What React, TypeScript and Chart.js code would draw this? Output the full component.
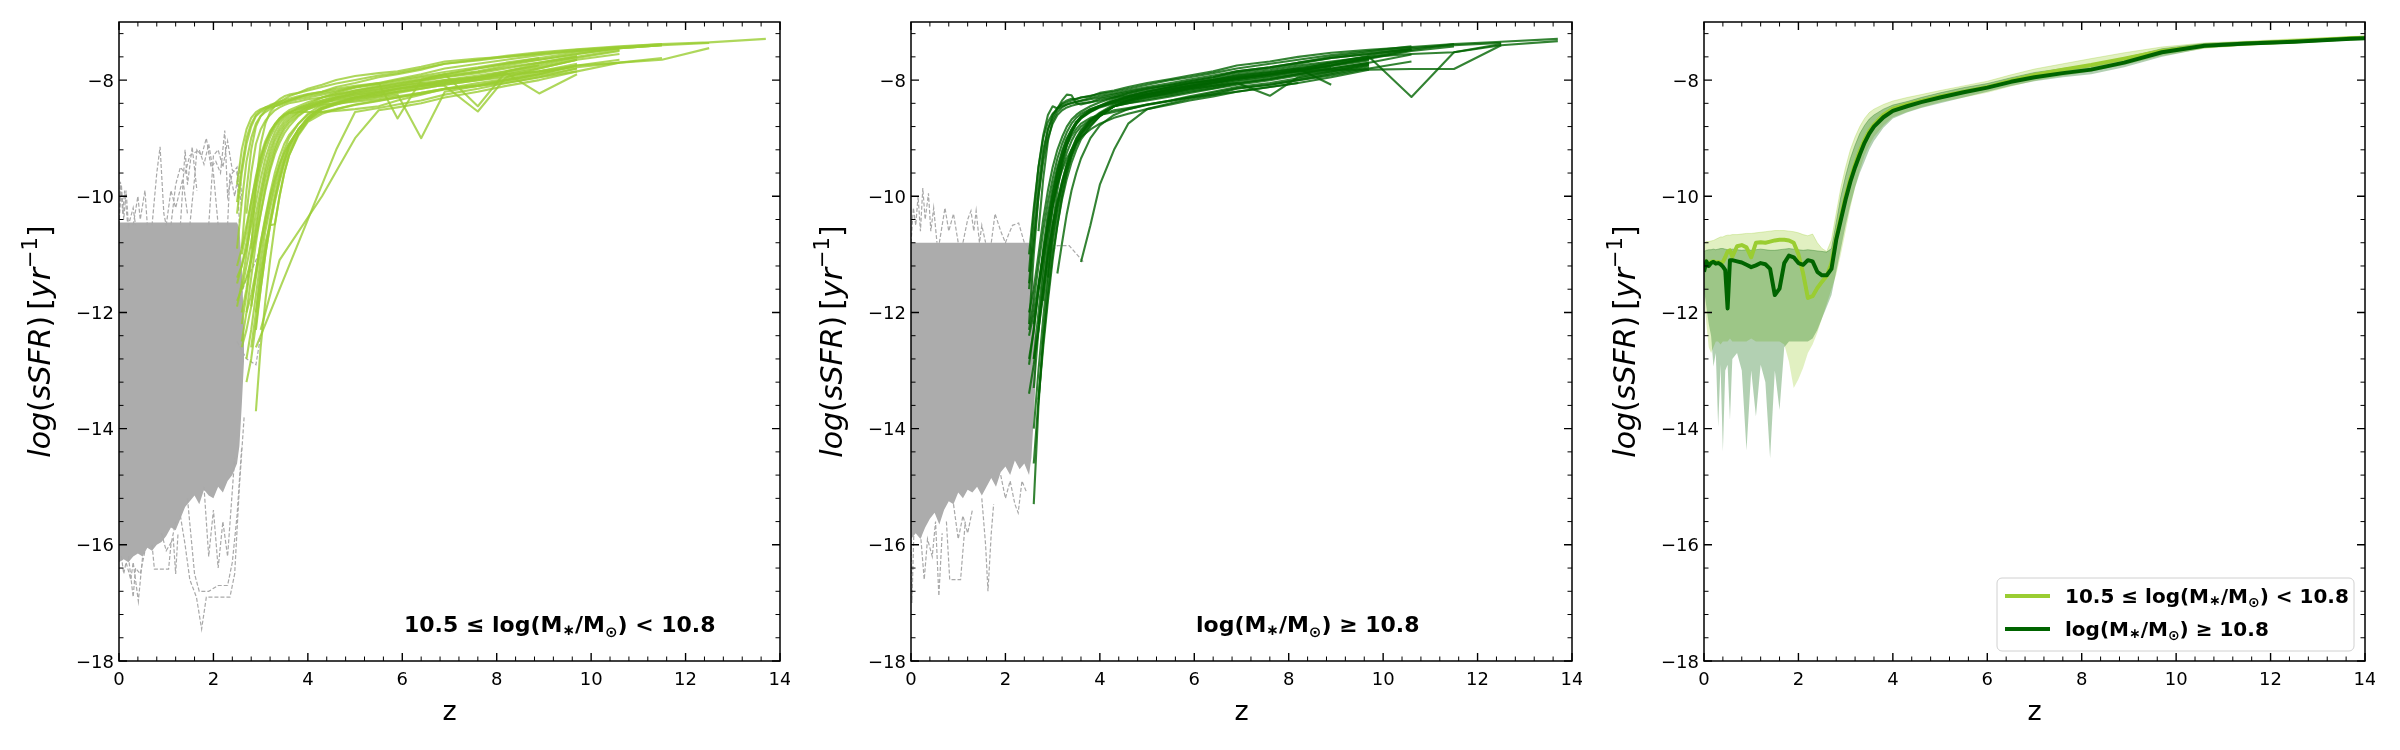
import React, { useEffect, useRef } from "react";
import { Chart, registerables } from "chart.js";

Chart.register(...registerables);

const _ = null;

// ---------------- axes ----------------
const X_MIN = 0;
const X_MAX = 14;
const Y_MIN = -18;
const Y_MAX = -7;
const X_MAJOR = [0, 2, 4, 6, 8, 10, 12, 14];
const X_LABELS = ["0", "2", "4", "6", "8", "10", "12", "14"];
const Y_MAJOR = [-18, -16, -14, -12, -10, -8];
const Y_LABELS = ["\u221218", "\u221216", "\u221214", "\u221212", "\u221210", "\u22128"];
const MINOR_STEP = 0.4;

// ---------------- panel 1 & 2 : individual tracks ----------------
const Z_TRACK = [2.5, 2.6, 2.7, 2.8, 2.9, 3.0, 3.1, 3.2, 3.3, 3.4, 3.5, 3.6, 3.8, 4.0, 4.3, 4.6, 5.0, 5.5, 5.9, 6.4, 6.9, 7.6, 8.2, 8.9, 9.7, 10.6, 11.5, 12.5, 13.7];

const BIN1_TRACKS = [
  [-9.8, -9.2, -8.85, -8.65, -8.55, -8.5, -8.47, -8.45, -8.42, -8.4, -8.38, -8.35, -8.3, -8.25, -8.2, -8.12, -8.05, -7.95, -7.9, -7.82, -7.72, -7.65, -7.58, -7.52, -7.47, -7.42, -7.38, -7.35, -7.29],
  [-10.3, -9.6, -9.1, -8.8, -8.62, -8.55, -8.5, -8.47, -8.45, -8.43, -8.4, -8.37, -8.33, -8.3, -8.25, -8.2, -8.12, -8.05, -7.98, -7.9, -7.8, -7.72, -7.65, -7.57, -7.5, -7.45, -7.4, -7.36, _],
  [-11.4, -11.2, -10.9, -10.5, -10.1, -9.7, -9.35, -9.1, -8.9, -8.75, -8.65, -8.58, -8.48, -8.42, -8.3, -8.25, -8.2, -8.12, -8.08, -8.0, -7.92, -7.85, -7.75, -7.65, -7.55, -7.45, -7.4, _, _],
  [-11.8, -11.6, -11.2, -10.8, -10.3, -9.9, -9.5, -9.2, -8.98, -8.82, -8.7, -8.62, -8.52, -8.45, -8.35, -8.3, -8.25, -8.2, -8.15, -8.1, -8.05, -7.95, -7.9, -7.85, -7.75, -7.7, -7.62, _, _],
  [_, -12.0, -11.6, -11.0, -10.5, -10.0, -9.6, -9.3, -9.05, -8.88, -8.75, -8.66, -8.55, -8.47, -8.38, -8.33, -8.28, -8.2, -8.15, -8.08, -8.0, -7.92, -7.85, -7.75, -7.62, -7.5, _, _, _],
  [_, -10.9, -9.9, -9.2, -8.8, -8.62, -8.52, -8.45, -8.4, -8.33, -8.28, -8.25, -8.22, -8.15, -8.08, -8.0, -7.93, -7.88, -7.85, -7.77, -7.68, -7.63, -7.6, -7.55, -7.5, -7.43, _, _, _],
  [_, _, -12.8, -12.3, -11.7, -11.1, -10.6, -10.2, -9.85, -9.55, -9.3, -9.1, -8.85, -8.65, -8.45, -8.38, -8.3, -8.25, -8.18, -8.1, -8.05, -7.98, -7.9, -7.8, -7.65, _, _, _, _],
  [_, _, _, _, -13.7, -12.6, -11.8, -11.1, -10.5, -10.0, -9.6, -9.3, -8.92, -8.68, -8.5, -8.42, -8.33, -8.28, -8.22, -8.15, -8.08, -8.0, -7.92, -7.85, -7.72, _, _, _, _],
  [-11.9, -11.5, -11.0, -10.4, -9.9, -9.5, -9.2, -8.98, -8.82, -8.7, -8.62, -8.56, -8.48, -8.42, -8.35, -8.27, -8.18, -8.1, -8.05, -7.98, -7.9, -7.8, -7.72, -7.65, -7.55, -7.45, _, _, _],
  [_, -12.6, -12.3, -11.9, -11.4, -10.9, -10.5, -10.1, -9.75, -9.45, -9.2, -9.0, -8.75, -8.58, -8.42, -8.32, -8.25, -8.18, -8.12, -8.05, -8.0, -7.95, -7.88, -8.23, -7.9, _, _, _, _],
  [_, _, -12.0, -11.7, -11.3, -10.8, -10.35, -9.95, -9.6, -9.32, -9.1, -8.95, -8.75, -8.6, -8.48, -8.42, -8.35, -8.3, -8.25, -9.0, -8.2, -8.1, -8.0, -7.9, -7.75, _, _, _, _],
  [-10.1, -9.5, -9.0, -8.75, -8.6, -8.52, -8.47, -8.43, -8.4, -8.37, -8.35, -8.32, -8.28, -8.24, -8.2, -8.15, -8.1, -8.05, -8.66, -8.0, -7.9, -7.8, -7.72, -7.62, -7.52, -7.45, -7.4, _, _],
  [_, -11.6, -11.4, -11.1, -10.7, -10.3, -9.9, -9.55, -9.28, -9.08, -8.92, -8.8, -8.62, -8.5, -8.4, -8.3, -8.22, -8.16, -8.1, -8.05, -8.1, -8.54, -7.95, -7.8, -7.65, -7.55, _, _, _],
  [_, _, _, _, -12.6, _, _, _, _, _, _, _, _, _, _, -9.2, -8.55, -8.48, -8.42, -8.35, -8.25, -8.15, -8.05, -7.95, -7.8, _, _, _, _],
  [_, _, _, _, _, -12.3, _, _, _, -11.1, _, _, _, _, -10.0, _, -9.0, -8.52, -8.47, -8.4, -8.3, -8.2, -8.1, -8.0, -7.85, _, _, _, _],
  [_, _, _, -11.9, -11.3, -10.8, -10.4, -10.0, -9.7, -9.45, -9.25, -9.1, -8.85, -8.68, -8.55, -8.5, -8.42, -8.35, -8.3, -8.22, -8.15, -8.08, -8.0, -7.9, -7.75, -7.65, _, _, _],
  [_, _, -10.3, -9.6, -9.1, -8.85, -8.7, -8.6, -8.52, -8.47, -8.43, -8.4, -8.37, -8.33, -8.3, -8.24, -8.18, -8.12, -8.06, -8.0, -7.94, -7.86, -7.78, -7.7, -7.6, _, _, _, _],
  [_, _, _, -12.6, -12.0, -11.4, -10.9, -10.4, -10.0, -9.65, -9.38, -9.15, -8.85, -8.65, -8.48, -8.4, -8.3, -8.22, -8.15, -8.1, -8.02, -7.95, -7.85, -7.75, _, _, _, _, _],
  [-11.5, -11.2, -10.8, -10.3, -9.8, -9.4, -9.1, -8.9, -8.76, -8.66, -8.6, -8.55, -8.5, -8.45, -8.38, -8.35, -8.3, -8.25, -8.2, -8.15, -8.08, -8.0, -7.95, -7.85, -7.78, -7.7, -7.65, -7.45, _],
  [_, -11.0, -10.6, -10.1, -9.65, -9.3, -9.05, -8.88, -8.76, -8.66, -8.58, -8.52, -8.45, -8.38, -8.3, -8.22, -8.13, -8.07, -8.02, -7.95, -7.9, -8.45, -7.85, -7.72, -7.6, -7.48, _, _, _],
  [_, _, -13.2, -12.8, -12.2, -11.6, -11.0, -10.5, -10.05, -9.7, -9.4, -9.15, -8.85, -8.65, -8.48, -8.4, -8.32, -8.27, -8.2, -8.13, -8.05, -7.98, -7.9, _, _, _, _, _, _],
  [-11.2, -10.9, -10.5, -10.1, -9.7, -9.35, -9.1, -8.92, -8.78, -8.68, -8.6, -8.57, -8.55, -8.55, -8.55, -8.53, -8.5, -8.45, -8.35, -8.25, -8.15, -8.05, -7.98, -7.88, -7.75, _, _, _, _],
  [_, -12.2, -11.7, -11.1, -10.6, -10.1, -9.7, -9.4, -9.15, -8.95, -8.8, -8.7, -8.56, -8.47, -8.38, -8.3, -8.22, -8.15, -8.1, -8.02, -7.95, -7.88, -7.8, -7.7, -7.58, _, _, _, _],
  [_, _, _, -10.9, -9.8, -9.1, -8.75, -8.55, -8.45, -8.38, -8.33, -8.28, -8.22, -8.18, -8.12, -8.06, -8.0, -7.92, -7.88, -7.8, -7.72, -7.66, -7.6, -7.54, -7.48, -7.43, -7.38, _, _],
  [_, _, _, _, -12.3, -11.6, -11.0, -10.5, -10.1, -9.75, -9.45, -9.22, -8.92, -8.7, -8.5, -8.4, -8.3, -8.22, -8.15, -8.08, -8.02, -7.95, -7.88, -7.78, -7.65, _, _, _, _],
  [_, _, _, _, -12.0, -11.3, -10.8, -10.5, -10.48, -10.0, -9.6, -9.3, -8.95, -8.72, -8.58, -8.5, -8.43, -8.36, -8.3, -8.24, -8.16, -8.1, -8.02, -7.92, -7.8, _, _, _, _],
  [-10.9, -10.1, -9.4, -9.0, -8.75, -8.62, -8.55, -8.5, -8.45, -8.42, -8.38, -8.35, -8.3, -8.27, -8.22, -8.18, -8.12, -8.06, -8.0, -7.93, -7.86, -7.78, -7.7, -7.62, _, _, _, _, _],
  [_, -12.5, -12.0, -11.4, -10.8, -10.3, -9.85, -9.5, -9.22, -9.0, -8.85, -8.74, -8.6, -8.5, -8.42, -8.4, -8.37, -8.33, -8.28, -8.22, -8.15, -8.1, -8.05, -7.95, -7.85, -7.7, _, _, _],
];

const BIN2_TRACKS = [
  [-11.0, -10.2, -9.5, -8.95, -8.6, -8.45, -8.49, -8.4, -8.35, -8.32, -8.33, -8.3, -8.28, -8.22, -8.18, -8.12, -8.05, -7.98, -7.92, -7.85, -7.75, -7.68, -7.6, -7.53, -7.48, -7.43, -7.38, -7.34, -7.29],
  [-11.5, -10.6, -9.8, -9.2, -8.85, -8.65, -8.49, -8.35, -8.25, -8.26, -8.4, -8.42, -8.38, -8.32, -8.28, -8.22, -8.15, -8.08, -8.02, -7.95, -7.85, -7.78, -7.7, -7.6, -7.52, -7.45, -7.4, -7.36, _],
  [-12.3, -11.8, -11.2, -10.6, -10.1, -9.7, -9.35, -9.1, -8.9, -8.75, -8.65, -8.58, -8.5, -8.44, -8.33, -8.28, -8.2, -8.12, -8.05, -7.98, -7.9, -7.83, -7.75, -7.68, -7.6, -7.55, -7.52, -7.4, -7.33],
  [-12.8, -12.3, -11.6, -10.9, -10.3, -9.85, -9.5, -9.22, -9.0, -8.85, -8.72, -8.64, -8.54, -8.46, -8.38, -8.3, -8.24, -8.16, -8.1, -8.02, -7.95, -7.88, -7.8, -7.72, -7.63, -7.5, -7.42, _, _],
  [-13.4, -12.9, -12.3, -11.6, -11.0, -10.5, -10.1, -9.75, -9.45, -9.2, -9.02, -8.88, -8.7, -8.58, -8.45, -8.37, -8.28, -8.2, -8.14, -8.06, -7.98, -7.9, -7.82, -7.74, -7.62, -7.48, _, _, _],
  [_, -15.3, -13.6, -12.4, -11.5, -10.8, -10.3, -9.9, -9.58, -9.32, -9.12, -8.98, -8.78, -8.62, -8.45, -8.35, -8.25, -8.18, -8.12, -8.05, -7.98, -7.9, -7.84, -7.75, -7.62, _, _, _, _],
  [_, -14.0, -13.0, -12.1, -11.3, -10.7, -10.2, -9.8, -9.5, -9.25, -9.05, -8.92, -8.72, -8.58, -8.45, -8.38, -8.3, -8.22, -8.15, -8.1, -8.02, -7.95, -7.88, -7.8, -7.7, _, _, _, _],
  [-12.0, -11.6, -11.0, -10.4, -9.9, -9.5, -9.2, -8.98, -8.8, -8.68, -8.6, -8.54, -8.45, -8.38, -8.3, -8.23, -8.17, -8.1, -8.05, -8.0, -7.95, -7.9, -7.85, -7.82, -7.82, -7.81, -7.81, -7.4, _],
  [_, -12.8, -12.3, -11.7, -11.1, -10.6, -10.15, -9.8, -9.5, -9.27, -9.08, -8.94, -8.75, -8.62, -8.45, -8.35, -8.25, -8.15, -8.1, -8.03, -7.96, -7.9, -7.82, -7.7, -7.6, -8.29, -7.52, -7.38, _],
  [_, _, -12.2, -11.6, -11.0, -10.5, -10.1, -9.75, -9.45, -9.2, -9.0, -8.86, -8.68, -8.56, -8.42, -8.33, -8.28, -8.22, -8.16, -8.1, -8.05, -8.27, -7.95, -7.85, -7.72, _, _, _, _],
  [_, _, -11.6, -11.1, -10.6, -10.15, -9.75, -9.4, -9.12, -8.9, -8.74, -8.62, -8.5, -8.44, -8.36, -8.28, -8.2, -8.12, -8.06, -8.0, -7.92, -7.86, -7.8, -8.08, _, _, _, _, _],
  [-11.3, -10.3, -9.5, -9.0, -8.72, -8.58, -8.5, -8.45, -8.42, -8.4, -8.38, -8.36, -8.33, -8.3, -8.25, -8.2, -8.14, -8.08, -8.02, -7.95, -7.87, -7.8, -7.72, -7.62, -7.55, -7.46, _, _, _],
  [_, _, _, _, _, _, -11.33, -10.8, -10.3, -9.9, -9.6, -9.35, -9.0, -8.78, -8.6, -8.5, -8.42, -8.35, -8.28, -8.2, -8.12, -8.05, -7.97, -7.88, -7.75, _, _, _, _],
  [_, _, _, _, _, _, _, _, _, _, _, -11.13, -10.5, -9.8, -9.2, -8.75, -8.5, -8.4, -8.32, -8.25, -8.15, -8.08, -8.0, -7.9, -7.78, _, _, _, _],
  [_, -13.3, -12.3, -11.4, -10.7, -10.2, -9.8, -9.5, -9.25, -9.05, -8.9, -8.8, -8.68, -8.6, -8.55, -8.5, -8.43, -8.36, -8.3, -8.22, -8.14, -8.08, -8.0, -7.92, -7.8, -7.68, _, _, _],
  [-12.2, -11.0, -10.0, -9.3, -8.85, -8.6, -8.48, -8.42, -8.38, -8.35, -8.32, -8.3, -8.27, -8.24, -8.2, -8.15, -8.08, -8.0, -7.95, -7.88, -7.8, -7.72, -7.65, -7.57, -7.5, -7.42, _, _, _],
  [_, -12.2, -11.6, -11.0, -10.4, -9.95, -9.55, -9.25, -9.02, -8.85, -8.72, -8.64, -8.54, -8.45, -8.36, -8.29, -8.23, -8.16, -8.1, -8.04, -7.97, -7.9, -7.83, -7.75, -7.64, _, _, _, _],
  [_, _, -13.5, -12.6, -11.8, -11.1, -10.5, -10.0, -9.6, -9.3, -9.08, -8.92, -8.72, -8.58, -8.45, -8.4, -8.33, -8.26, -8.2, -8.14, -8.06, -7.98, -7.9, -7.8, -7.7, -7.56, _, _, _],
  [-12.9, -12.3, -11.6, -11.0, -10.5, -10.1, -9.8, -9.55, -9.35, -9.2, -9.08, -8.98, -8.85, -8.75, -8.65, -8.58, -8.5, -8.42, -8.35, -8.28, -8.2, -8.12, -8.05, -7.95, -7.82, _, _, _, _],
  [_, _, _, -11.8, -10.9, -10.2, -9.7, -9.35, -9.08, -8.9, -8.76, -8.66, -8.53, -8.45, -8.38, -8.32, -8.26, -8.2, -8.14, -8.08, -8.0, -7.93, -7.85, -7.78, _, _, _, _, _],
  [-11.6, -10.8, -10.0, -9.4, -9.0, -8.75, -8.6, -8.52, -8.47, -8.44, -8.42, -8.4, -8.38, -8.35, -8.3, -8.26, -8.2, -8.13, -8.07, -8.0, -7.93, -7.86, -7.78, -7.7, -7.58, -7.48, -7.38, _, _],
  [_, -12.8, -12.0, -11.2, -10.5, -10.0, -9.6, -9.3, -9.06, -8.88, -8.75, -8.66, -8.55, -8.47, -8.4, -8.35, -8.3, -8.24, -8.18, -8.12, -8.05, -7.98, -7.9, -7.82, -7.72, _, _, _, _],
  [_, _, _, _, -11.4, -10.5, -9.9, -9.45, -9.12, -8.9, -8.75, -8.64, -8.52, -8.45, -8.36, -8.3, -8.24, -8.18, -8.12, -8.05, -7.98, -7.92, -7.84, -7.76, -7.66, _, _, _, _],
  [-12.4, -12.0, -11.5, -11.0, -10.5, -10.05, -9.65, -9.35, -9.12, -8.96, -8.84, -8.75, -8.65, -8.6, -8.52, -8.48, -8.42, -8.35, -8.3, -8.25, -8.2, -8.12, -8.05, _, _, _, _, _, _],
  [_, _, -10.6, -9.7, -9.05, -8.7, -8.55, -8.47, -8.42, -8.39, -8.37, -8.35, -8.31, -8.27, -8.23, -8.18, -8.12, -8.05, -7.99, -7.92, -7.85, -7.78, -7.7, -7.62, -7.55, -7.47, _, _, _],
  [_, -14.6, -13.5, -12.5, -11.7, -11.0, -10.5, -10.05, -9.7, -9.42, -9.2, -9.02, -8.8, -8.62, -8.45, -8.4, -8.35, -8.28, -8.22, -8.15, -8.08, -8.0, -7.92, -7.85, -7.74, _, _, _, _],
];

// quenched (low-z) part: dense band envelope + outlying dashed tracks
const Z_GRAY = [0, 0.1, 0.2, 0.3, 0.4, 0.5, 0.6, 0.7, 0.8, 0.9, 1.0, 1.1, 1.2, 1.3, 1.4, 1.5, 1.6, 1.7, 1.8, 1.9, 2.0, 2.1, 2.2, 2.3, 2.4, 2.5, 2.55, 2.6, 2.65];
const BIN1_GRAY_TOP = [-10.45, -10.45, -10.45, -10.45, -10.45, -10.45, -10.45, -10.45, -10.45, -10.45, -10.45, -10.45, -10.45, -10.45, -10.45, -10.45, -10.45, -10.45, -10.45, -10.45, -10.45, -10.45, -10.45, -10.45, -10.45, -10.45, -10.55, -11.2, -12.3];
const BIN1_GRAY_BOT = [-16.3, -16.25, -16.3, -16.2, -16.15, -16.2, -16.05, -16.1, -16.0, -15.95, -15.85, -15.7, -15.75, -15.55, -15.35, -15.25, -15.15, -15.3, -15.05, -15.15, -15.2, -15.0, -15.1, -14.9, -14.8, -14.6, -14.3, -13.6, -12.8];
const BIN2_GRAY_TOP = [-10.8, -10.8, -10.8, -10.8, -10.8, -10.8, -10.8, -10.8, -10.8, -10.8, -10.8, -10.8, -10.8, -10.8, -10.8, -10.8, -10.8, -10.8, -10.8, -10.8, -10.8, -10.8, -10.8, -10.8, -10.8, -10.8, -10.9, -11.5, -12.5];
const BIN2_GRAY_BOT = [-15.9, -15.8, -15.9, -15.7, -15.55, -15.45, -15.65, -15.4, -15.25, -15.3, -15.1, -15.2, -15.05, -15.1, -15.0, -15.15, -15.0, -14.85, -15.0, -14.75, -14.65, -14.8, -14.55, -14.7, -14.6, -14.8, -14.5, -13.8, -13.0];

const BIN1_GRAY_LINES = [
  [[0, -10.5], [0.05, -9.8], [0.1, -10.4], [0.15, -9.9], [0.2, -10.5], [0.3, -10.2], [0.35, -10.5]],
  [[0.0, -10.5], [0.03, -9.75], [0.08, -10.3], [0.12, -9.9], [0.18, -10.45]],
  [[0.3, -10.5], [0.4, -10.0], [0.45, -10.4], [0.55, -9.9], [0.6, -10.5]],
  [[0.7, -10.5], [0.8, -9.6], [0.87, -9.15], [0.95, -10.3], [1.0, -10.5]],
  [[1.1, -10.5], [1.2, -9.8], [1.3, -9.5], [1.4, -9.6], [1.5, -9.3], [1.6, -9.25], [1.7, -9.2], [1.8, -9.45], [1.9, -9.1], [2.0, -9.6], [2.1, -10.5]],
  [[1.5, -10.5], [1.6, -9.7], [1.65, -9.2], [1.75, -9.3], [1.85, -9.0], [1.95, -9.5], [2.05, -9.4], [2.15, -9.6], [2.24, -8.87], [2.3, -10.0], [2.4, -9.6], [2.5, -9.5], [2.55, -10.5]],
  [[1.0, -10.5], [1.1, -9.9], [1.2, -10.2], [1.35, -9.7], [1.45, -10.3]],
  [[1.3, -10.5], [1.4, -9.2], [1.45, -9.8], [1.55, -9.15], [1.65, -9.9]],
  [[1.9, -10.5], [2.0, -9.3], [2.1, -9.2], [2.2, -9.5], [2.3, -9.05], [2.4, -9.55], [2.5, -9.6], [2.6, -10.2]],
  [[2.3, -10.5], [2.35, -9.6], [2.45, -10.0], [2.55, -9.5], [2.6, -10.0]],
  [[0.05, -16.2], [0.1, -16.5], [0.15, -16.3], [0.25, -16.6], [0.3, -16.3], [0.41, -16.97], [0.5, -16.2]],
  [[0.7, -16.0], [0.75, -16.42], [1.05, -16.42], [1.1, -16.0], [1.2, -15.6]],
  [[1.3, -15.5], [1.4, -16.0], [1.5, -16.6], [1.64, -16.9], [1.75, -17.45], [1.85, -16.9], [2.0, -16.9], [2.2, -16.9], [2.35, -16.9], [2.45, -16.5], [2.55, -15.0], [2.65, -13.8]],
  [[1.45, -15.2], [1.6, -16.5], [1.7, -16.8], [1.9, -16.8], [2.1, -16.7], [2.3, -16.7], [2.4, -16.3], [2.5, -15.5], [2.6, -14.3]],
  [[1.8, -15.0], [1.9, -16.2], [2.0, -15.4], [2.1, -16.4], [2.2, -15.6], [2.3, -16.2], [2.45, -14.5]],
  [[2.5, -12.5], [2.7, -12.8], [2.9, -12.9], [3.0, -12.4]],
  [[2.55, -11.8], [2.7, -11.4], [2.85, -11.2], [2.95, -11.0]],
  [[0.9, -15.8], [1.0, -16.1], [1.15, -15.9], [1.2, -16.5], [1.25, -15.8]],
  [[0.2, -16.2], [0.3, -16.9], [0.35, -16.4], [0.45, -16.5], [0.55, -16.1]],
];

const BIN2_GRAY_LINES = [
  [[0, -10.8], [0.05, -10.2], [0.1, -10.5], [0.15, -10.0], [0.2, -10.6], [0.25, -9.86], [0.3, -10.4], [0.37, -9.95], [0.42, -10.6], [0.48, -10.2], [0.55, -10.8]],
  [[0.6, -10.8], [0.72, -10.2], [0.8, -10.6], [0.9, -10.3], [1.0, -10.8]],
  [[1.1, -10.8], [1.2, -10.4], [1.27, -10.25], [1.33, -10.6], [1.38, -10.25], [1.45, -10.8], [1.5, -10.5], [1.58, -10.8]],
  [[1.7, -10.8], [1.78, -10.3], [1.9, -10.6], [2.0, -10.8], [2.07, -10.65], [2.15, -10.5], [2.28, -10.46], [2.4, -10.8], [2.5, -10.9]],
  [[2.9, -11.0], [3.1, -10.85], [3.35, -10.85], [3.65, -11.13]],
  [[0, -15.5], [0.02, -17.0], [0.06, -15.8]],
  [[0.2, -15.8], [0.28, -16.6], [0.35, -15.9], [0.45, -16.2], [0.52, -15.6], [0.59, -16.88], [0.66, -15.8]],
  [[0.75, -15.6], [0.82, -16.6], [1.05, -16.6], [1.15, -15.6]],
  [[1.5, -15.2], [1.58, -16.0], [1.63, -16.8], [1.7, -15.8], [1.75, -15.3]],
  [[1.9, -14.8], [2.0, -15.2], [2.1, -14.9], [2.2, -15.3], [2.27, -15.45], [2.35, -14.9], [2.45, -15.1]],
  [[0.9, -15.3], [1.0, -15.9], [1.1, -15.5], [1.2, -15.8], [1.3, -15.4]],
];

// ---------------- panel 3 : medians and scatter bands ----------------
const Z_MED = [0, 0.05, 0.1, 0.15, 0.2, 0.25, 0.3, 0.35, 0.4, 0.45, 0.5, 0.55, 0.6, 0.7, 0.8, 0.9, 1.0, 1.1, 1.2, 1.3, 1.4, 1.5, 1.6, 1.7, 1.8, 1.9, 2.0, 2.1, 2.2, 2.3, 2.4, 2.5, 2.6, 2.7, 2.8, 2.9, 3.0, 3.1, 3.2, 3.3, 3.4, 3.5, 3.6, 3.8, 4.0, 4.3, 4.6, 5.0, 5.5, 6.0, 6.5, 7.0, 7.6, 8.2, 8.9, 9.7, 10.6, 11.5, 12.5, 13.7, 14.0];
const BIN1_MEDIAN = [-11.25, -11.12, -11.18, -11.13, -11.12, -11.14, -11.13, -11.15, -11.13, -11.05, -10.95, -10.93, -11.04,
  -10.86, -10.84, -10.88, -11.05, -10.80, -10.79, -10.80, -10.78, -10.76, -10.75,
  -10.75, -10.76, -10.80, -11.00, -11.33, -11.75, -11.72, -11.58, -11.47, -11.37,
  -11.15, -10.72, -10.35, -10.0, -9.7, -9.45, -9.22, -9.03, -8.88, -8.77,
  -8.60, -8.49, -8.42, -8.36, -8.28, -8.20, -8.12, -8.01, -7.91, -7.82, -7.74, -7.63, -7.50, -7.41, -7.37, -7.33, -7.28, -7.27];
const BIN1_UPPER = [-10.80, -10.78, -10.78, -10.77, -10.76, -10.74, -10.72, -10.70, -10.70, -10.68, -10.67, -10.67, -10.66,
  -10.66, -10.65, -10.64, -10.64, -10.63, -10.62, -10.61, -10.60, -10.59, -10.59,
  -10.59, -10.60, -10.61, -10.63, -10.66, -10.68, -10.65, -10.80, -10.90, -10.95,
  -10.75, -10.30, -9.85, -9.50, -9.20, -8.98, -8.80, -8.66, -8.56, -8.50,
  -8.42, -8.36, -8.30, -8.25, -8.18, -8.10, -8.02, -7.91, -7.81, -7.72, -7.63, -7.53, -7.43, -7.36, -7.33, -7.29, -7.25, -7.24];
const BIN1_LOWER = [-11.70, -12.20, -12.60, -12.70, -12.60, -12.50, -12.50, -12.55, -12.50, -12.50, -12.50, -12.45, -12.50,
  -12.50, -12.50, -12.50, -12.45, -12.50, -12.50, -12.50, -12.50, -12.50, -12.50,
  -12.55, -12.85, -13.30, -13.15, -12.95, -12.70, -12.55, -12.35, -12.10, -11.85,
  -11.60, -11.35, -11.00, -10.60, -10.20, -9.85, -9.55, -9.30, -9.12, -8.98,
  -8.78, -8.64, -8.55, -8.47, -8.38, -8.30, -8.22, -8.11, -8.01, -7.93, -7.85, -7.74, -7.58, -7.46, -7.41, -7.37, -7.31, -7.30];
const BIN2_MEDIAN = [-11.30, -11.12, -11.20, -11.15, -11.13, -11.16, -11.15, -11.17, -11.21, -11.27, -11.93, -11.10, -11.10,
  -11.12, -11.14, -11.18, -11.22, -11.19, -11.15, -11.17, -11.25, -11.70, -11.59,
  -11.15, -11.02, -11.05, -11.15, -11.18, -11.10, -11.12, -11.30, -11.36, -11.36,
  -11.25, -10.75, -10.40, -10.05, -9.75, -9.50, -9.28, -9.08, -8.92, -8.80,
  -8.64, -8.53, -8.45, -8.38, -8.30, -8.21, -8.13, -8.03, -7.95, -7.88, -7.82, -7.70, -7.52, -7.41, -7.37, -7.34, -7.29, -7.28];
const BIN2_UPPER = [-10.95, -10.93, -10.92, -10.92, -10.91, -10.92, -10.91, -10.90, -10.90, -10.91, -10.92, -10.92, -10.91,
  -10.92, -10.93, -10.92, -10.93, -10.92, -10.91, -10.92, -10.93, -10.93, -10.92,
  -10.91, -10.90, -10.91, -10.92, -10.93, -10.92, -10.93, -10.94, -10.95, -10.96,
  -10.90, -10.45, -10.00, -9.65, -9.35, -9.12, -8.92, -8.78, -8.67, -8.60,
  -8.50, -8.43, -8.37, -8.30, -8.22, -8.13, -8.06, -7.96, -7.87, -7.80, -7.74, -7.62, -7.46, -7.37, -7.34, -7.31, -7.26, -7.25];
const BIN2_LOWER = [-11.60, -11.90, -12.20, -12.40, -12.93, -12.70, -13.97, -12.90, -14.40, -13.00, -12.90, -13.85, -12.80,
  -12.70, -13.00, -14.37, -13.00, -13.79, -12.90, -13.20, -14.51, -13.00, -13.68,
  -12.60, -12.50, -12.50, -12.50, -12.50, -12.50, -12.45, -12.30, -12.10, -11.90,
  -11.70, -11.30, -10.90, -10.50, -10.15, -9.85, -9.60, -9.40, -9.20, -9.05,
  -8.82, -8.66, -8.56, -8.48, -8.40, -8.30, -8.20, -8.10, -8.02, -7.95, -7.90, -7.78, -7.60, -7.45, -7.40, -7.37, -7.32, -7.31];

// ---------------- styling ----------------
const FF = '"DejaVu Sans", sans-serif';
const LIGHT = "#9acd32";
const DARK = "#006400";
const GRAY = "#a9a9a9";
const PANEL_LEFTS = [0, 792, 1585];
const CANVAS_W = 790;
const CANVAS_H = 750;

type Seg = { t?: string; size?: number; style?: string; dy?: number; gap?: number };

function segFont(s: Seg) {
  return `${s.style ? s.style + " " : ""}${s.size}px ${FF}`;
}
function segsWidth(ctx: CanvasRenderingContext2D, segs: Seg[]) {
  let w = 0;
  for (const s of segs) {
    if (s.gap) { w += s.gap; continue; }
    ctx.font = segFont(s);
    w += ctx.measureText(s.t || "").width;
  }
  return w;
}
function drawSegs(ctx: CanvasRenderingContext2D, segs: Seg[], x: number, y: number) {
  let cx = x;
  for (const s of segs) {
    if (s.gap) { cx += s.gap; continue; }
    ctx.font = segFont(s);
    ctx.fillText(s.t || "", cx, y + (s.dy || 0));
    cx += ctx.measureText(s.t || "").width;
  }
}

function massLabel(kind: number, B: number): Seg[] {
  const b = "bold";
  const sub = Math.round(B * 0.7);
  if (kind === 1) {
    return [
      { t: "10.5 \u2264 log(M", size: B, style: b },
      { t: "\u2217", size: sub, style: b, dy: B * 0.12 },
      { t: "/M", size: B, style: b },
      { t: "\u2299", size: sub, style: b, dy: B * 0.22 },
      { t: ") < 10.8", size: B, style: b },
    ];
  }
  return [
    { t: "log(M", size: B, style: b },
    { t: "\u2217", size: sub, style: b, dy: B * 0.12 },
    { t: "/M", size: B, style: b },
    { t: "\u2299", size: sub, style: b, dy: B * 0.22 },
    { t: ") \u2265 10.8", size: B, style: b },
  ];
}

function makeFrame(panel: number) {
  return {
    id: "frame" + panel,
    afterDraw(chart: any) {
      const { ctx, chartArea: a, scales } = chart;
      const xs = scales.x;
      const ys = scales.y;
      ctx.save();
      ctx.fillStyle = "#000";
      ctx.strokeStyle = "#000";
      ctx.lineWidth = 1;
      ctx.beginPath();
      const nx = Math.round((X_MAX - X_MIN) / MINOR_STEP);
      for (let k = 0; k <= nx; k++) {
        if (k % 5 === 0) continue;
        const px = xs.getPixelForValue(X_MIN + k * MINOR_STEP);
        ctx.moveTo(px, a.bottom); ctx.lineTo(px, a.bottom - 4.5);
        ctx.moveTo(px, a.top); ctx.lineTo(px, a.top + 4.5);
      }
      const ny = Math.floor((Y_MAX - Y_MIN) / MINOR_STEP + 1e-6);
      for (let k = 0; k <= ny; k++) {
        if (k % 5 === 0) continue;
        const py = ys.getPixelForValue(Y_MIN + k * MINOR_STEP);
        ctx.moveTo(a.left, py); ctx.lineTo(a.left + 4.5, py);
        ctx.moveTo(a.right, py); ctx.lineTo(a.right - 4.5, py);
      }
      ctx.stroke();
      ctx.lineWidth = 1.4;
      ctx.beginPath();
      for (const v of X_MAJOR) {
        const px = xs.getPixelForValue(v);
        ctx.moveTo(px, a.bottom); ctx.lineTo(px, a.bottom - 8);
        ctx.moveTo(px, a.top); ctx.lineTo(px, a.top + 8);
      }
      for (const v of Y_MAJOR) {
        const py = ys.getPixelForValue(v);
        ctx.moveTo(a.left, py); ctx.lineTo(a.left + 8, py);
        ctx.moveTo(a.right, py); ctx.lineTo(a.right - 8, py);
      }
      ctx.stroke();
      ctx.lineWidth = 1.5;
      ctx.strokeRect(a.left, a.top, a.right - a.left, a.bottom - a.top);
      ctx.font = `18px ${FF}`;
      ctx.textBaseline = "alphabetic";
      ctx.textAlign = "center";
      X_MAJOR.forEach((v, i) => ctx.fillText(X_LABELS[i], xs.getPixelForValue(v), a.bottom + 24));
      ctx.textAlign = "right";
      Y_MAJOR.forEach((v, i) => ctx.fillText(Y_LABELS[i], a.left - 5, ys.getPixelForValue(v) + 6.5));
      ctx.font = `27px ${FF}`;
      ctx.textAlign = "center";
      ctx.fillText("z", (a.left + a.right) / 2, 720);
      ctx.textAlign = "left";
      const T = 30;
      const ySegs: Seg[] = [
        { t: "log", size: T, style: "italic" },
        { t: "(", size: T },
        { t: "sSFR", size: T, style: "italic" },
        { t: ")", size: T },
        { gap: 6 },
        { t: "[", size: T },
        { t: "yr", size: T, style: "italic" },
        { t: "\u22121", size: Math.round(T * 0.7), dy: -T * 0.42 },
        { t: "]", size: T },
      ];
      ctx.save();
      ctx.translate(a.left - 69, (a.top + a.bottom) / 2);
      ctx.rotate(-Math.PI / 2);
      const yw = segsWidth(ctx, ySegs);
      drawSegs(ctx, ySegs, -yw / 2, 0);
      ctx.restore();
      if (panel === 0 || panel === 1) {
        drawSegs(ctx, massLabel(panel === 0 ? 1 : 2, 22), a.left + 285, 632);
      }
      if (panel === 2) {
        const bx = a.left + 293, by = 578, bw = 357, bh = 73;
        ctx.beginPath();
        ctx.roundRect(bx, by, bw, bh, 5);
        ctx.fillStyle = "rgba(255,255,255,0.8)";
        ctx.fill();
        ctx.strokeStyle = "#d0d0d0";
        ctx.lineWidth = 1;
        ctx.stroke();
        ctx.lineWidth = 4;
        ctx.strokeStyle = LIGHT;
        ctx.beginPath(); ctx.moveTo(a.left + 301, 596); ctx.lineTo(a.left + 346, 596); ctx.stroke();
        ctx.strokeStyle = DARK;
        ctx.beginPath(); ctx.moveTo(a.left + 301, 629); ctx.lineTo(a.left + 346, 629); ctx.stroke();
        ctx.fillStyle = "#000";
        drawSegs(ctx, massLabel(1, 20), a.left + 361, 603);
        drawSegs(ctx, massLabel(2, 20), a.left + 361, 636);
      }
      ctx.restore();
    },
  };
}

function trackPoints(vals: (number | null)[]) {
  const pts: { x: number; y: number }[] = [];
  vals.forEach((v, i) => { if (v !== null && v !== undefined) pts.push({ x: Z_TRACK[i], y: v }); });
  return pts;
}
function seriesPoints(zs: number[], vals: number[]) {
  return vals.map((v, i) => ({ x: zs[i], y: v }));
}
function pairPoints(pairs: number[][]) {
  return pairs.map((p) => ({ x: p[0], y: p[1] }));
}

function trackDatasets(tracks: (number | null)[][], color: string, gTop: number[], gBot: number[], gLines: number[][][]) {
  const ds: any[] = [];
  ds.push({ data: seriesPoints(Z_GRAY, gBot), borderColor: "rgba(0,0,0,0)", borderWidth: 1, fill: false, order: 4 });
  ds.push({ data: seriesPoints(Z_GRAY, gTop), borderColor: "rgba(0,0,0,0)", borderWidth: 1, fill: "-1", backgroundColor: "rgb(172,172,172)", order: 4 });
  gLines.forEach((l) => ds.push({ data: pairPoints(l), borderColor: GRAY, borderWidth: 1.2, borderDash: [4, 2], fill: false, order: 3 }));
  tracks.forEach((t) => ds.push({ data: trackPoints(t), borderColor: color, borderWidth: 2.1, fill: false, order: 1, borderJoinStyle: "round" }));
  return ds;
}

function summaryDatasets() {
  return [
    { data: seriesPoints(Z_MED, BIN1_LOWER), borderColor: "rgba(0,0,0,0)", borderWidth: 1, fill: false, order: 6 },
    { data: seriesPoints(Z_MED, BIN1_UPPER), borderColor: "rgba(154,205,50,0.3)", borderWidth: 1, fill: "-1", backgroundColor: "rgba(154,205,50,0.3)", order: 6 },
    { data: seriesPoints(Z_MED, BIN2_LOWER), borderColor: "rgba(0,0,0,0)", borderWidth: 1, fill: false, order: 5 },
    { data: seriesPoints(Z_MED, BIN2_UPPER), borderColor: "rgba(0,100,0,0.3)", borderWidth: 1, fill: "-1", backgroundColor: "rgba(0,100,0,0.3)", order: 5 },
    { data: seriesPoints(Z_MED, BIN1_MEDIAN), borderColor: LIGHT, borderWidth: 4, fill: false, order: 2, borderJoinStyle: "round" },
    { data: seriesPoints(Z_MED, BIN2_MEDIAN), borderColor: DARK, borderWidth: 4, fill: false, order: 1, borderJoinStyle: "round" },
  ];
}

function buildConfig(panel: number): any {
  let datasets: any[];
  if (panel === 0) datasets = trackDatasets(BIN1_TRACKS, "rgba(154,205,50,0.8)", BIN1_GRAY_TOP, BIN1_GRAY_BOT, BIN1_GRAY_LINES);
  else if (panel === 1) datasets = trackDatasets(BIN2_TRACKS, "rgba(0,100,0,0.8)", BIN2_GRAY_TOP, BIN2_GRAY_BOT, BIN2_GRAY_LINES);
  else datasets = summaryDatasets();
  return {
    type: "line",
    data: { datasets },
    options: {
      animation: false,
      responsive: false,
      devicePixelRatio: 1,
      events: [],
      layout: { padding: { left: 119, right: 10, top: 22, bottom: 89 } },
      elements: { point: { radius: 0 }, line: { tension: 0 } },
      scales: {
        x: { type: "linear", min: X_MIN, max: X_MAX, display: false },
        y: { type: "linear", min: Y_MIN, max: Y_MAX, display: false },
      },
      plugins: { legend: { display: false }, tooltip: { enabled: false } },
    },
    plugins: [makeFrame(panel)],
  };
}

function Panel({ index }: { index: number }) {
  const ref = useRef<HTMLCanvasElement | null>(null);
  useEffect(() => {
    if (!ref.current) return;
    const chart = new Chart(ref.current, buildConfig(index));
    return () => chart.destroy();
  }, [index]);
  return (
    <canvas
      ref={ref}
      width={CANVAS_W}
      height={CANVAS_H}
      style={{ position: "absolute", left: PANEL_LEFTS[index], top: 0, width: CANVAS_W, height: CANVAS_H }}
    />
  );
}

export default function App() {
  return (
    <div style={{ position: "absolute", left: 0, top: 0, width: 2400, height: 750, background: "#fff", overflow: "hidden" }}>
      <Panel index={0} />
      <Panel index={1} />
      <Panel index={2} />
    </div>
  );
}
